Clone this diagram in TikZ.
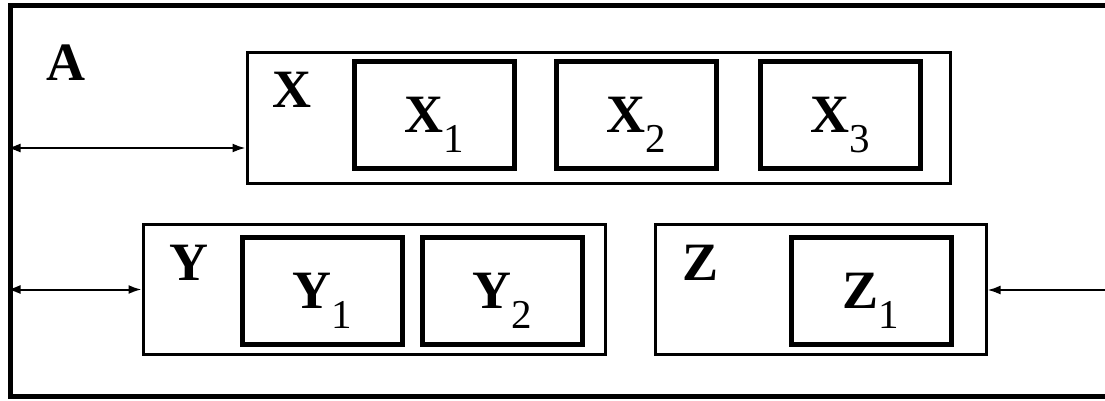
\documentclass[tikz,border=0pt]{standalone}
\usepackage{fontspec}
\setmainfont{Liberation Serif}
\usepackage{tikz}
\usetikzlibrary{arrows.meta, positioning}

\newcommand{\lowsub}[1]{\raisebox{-20pt}[0pt][0pt]{\fontsize{41}{41}\selectfont\mdseries #1}}

\tikzset{
	outerbox/.style={draw, line width=5pt, minimum width=1110pt, minimum height=391pt, inner sep=0pt},
	groupbox/.style={draw, line width=3pt, inner sep=0pt},
	partbox/.style={draw, line width=5pt, minimum width=160pt, minimum height=107pt, inner sep=0pt,
		font=\fontsize{54}{54}\selectfont\bfseries},
	tag/.style={inner sep=0pt, font=\fontsize{54}{54}\selectfont\bfseries},
	link/.style={line width=2pt, {Latex[length=13pt,width=9pt]}-{Latex[length=13pt,width=9pt]}},
	inlink/.style={line width=2pt, -{Latex[length=13pt,width=9pt]}}
}

\begin{document}
\begin{tikzpicture}[x=1pt, y=-1pt]
		\useasboundingbox (0,0) rectangle (1105,400);
		\node[outerbox] (sysA) at (565,200.5) {};
		\node[tag] (labA) at (66,63) {A};

		\node[groupbox, minimum width=703pt, minimum height=131pt] (X) at (598.5,117.5) {};
		\node[tag] (labX) at (292,90) {X};
		\node[partbox] (X1) at (434,115) {X\lowsub{1}};
		\node[partbox] (X2) at (636,115) {X\lowsub{2}};
		\node[partbox] (X3) at (840,115) {X\lowsub{3}};

		\node[groupbox, minimum width=462pt, minimum height=130pt] (Y) at (374,289.5) {};
		\node[tag] (labY) at (189,263) {Y};
		\node[partbox] (Y1) at (322,291) {Y\lowsub{1}};
		\node[partbox] (Y2) at (502,291) {Y\lowsub{2}};

		\node[groupbox, minimum width=331pt, minimum height=130pt] (Z) at (820.5,289.5) {};
		\node[tag] (labZ) at (700,263) {Z};
		\node[partbox] (Z1) at (871,291) {Z\lowsub{1}};

		\coordinate (xin) at (10,148);
		\coordinate (zin) at (1105,290);
		\draw[link] (sysA.west |- xin) -- (X.west |- xin);
		\draw[link] (sysA.west |- Y.west) -- (Y.west);
		\draw[inlink] (zin) -- (Z.east |- zin);
	\end{tikzpicture}
\end{document}
